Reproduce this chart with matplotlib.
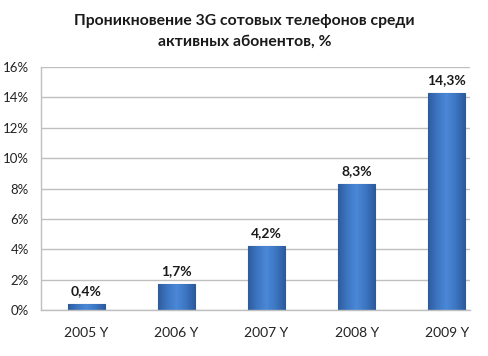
import matplotlib
matplotlib.use("Agg")
import matplotlib.pyplot as plt
import numpy as np
from matplotlib.colors import LinearSegmentedColormap

plt.rcParams['font.family'] = ['Lato', 'DejaVu Sans']

categories = ["2005 Y", "2006 Y", "2007 Y", "2008 Y", "2009 Y"]
values = [0.4, 1.7, 4.2, 8.3, 14.3]
value_labels = ["0,4%", "1,7%", "4,2%", "8,3%", "14,3%"]
yticks = [0, 2, 4, 6, 8, 10, 12, 14, 16]
title = "Проникновение 3G сотовых телефонов среди\nактивных абонентов, %"

fig = plt.figure(figsize=(4.89, 3.56), dpi=100)
ax = fig.add_axes([41.5/489, 46/356, (470-41.5)/489, 243/356])

x = np.arange(len(categories))
bars = ax.bar(x, values, width=0.41, color="#3F77C4", edgecolor="#2C5A94",
              linewidth=0.8, zorder=2)

cmap = LinearSegmentedColormap.from_list(
    "bev", ["#2D5C9C", "#3D76C3", "#4B88D7", "#3D76C3", "#2D5C9C"])
grad = np.linspace(0, 1, 64).reshape(1, -1)
for b in bars:
    x0, w, h = b.get_x(), b.get_width(), b.get_height()
    im = ax.imshow(grad, cmap=cmap, aspect="auto",
                   extent=[x0, x0 + w, 0, h], zorder=2.5)
    im.set_clip_path(b)

for xi, v, lab in zip(x, values, value_labels):
    ax.text(xi, v + 0.45, lab, ha="center", va="bottom",
            fontsize=10, fontweight="bold", color="#1A1A1A")

ax.set_xlim(-0.5, 4.26)
ax.set_ylim(0, 16)
ax.set_yticks(yticks)
ax.set_yticklabels([f"{t}%" for t in yticks], fontsize=9.5, color="#222222")
ax.set_xticks(x)
ax.set_xticklabels(categories, fontsize=10, color="#222222")
ax.tick_params(axis="both", length=0)
ax.tick_params(axis="y", pad=9)
ax.tick_params(axis="x", pad=12)
ax.grid(axis="y", color="#BFBFBF", linewidth=1, zorder=0)
ax.set_axisbelow(True)
for s in ["top", "right"]:
    ax.spines[s].set_visible(False)
for s in ["left", "bottom"]:
    ax.spines[s].set_color("#BFBFBF")
    ax.spines[s].set_linewidth(1)

fig.text(0.5, 1 - 31.5/356, title, ha="center", va="center",
         fontsize=11.3, fontweight="bold", color="#1A1A1A", linespacing=1.65)

fig.savefig("out.png", dpi=100)
